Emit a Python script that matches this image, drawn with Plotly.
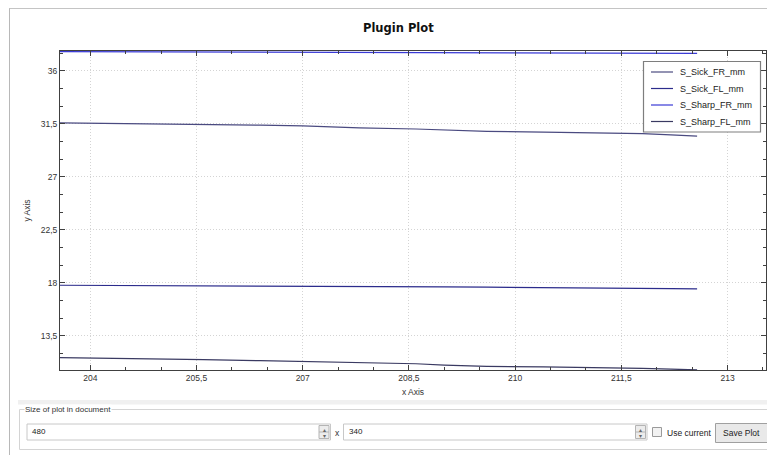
import plotly.graph_objects as go

# ---------------- data ----------------
x_vals = [203.4, 204.0, 204.8, 205.6, 206.4, 207.0, 207.8, 208.6, 209.0, 209.6,
          210.4, 211.2, 211.8, 212.2, 212.57]

s_sick_fr = [31.58, 31.55, 31.50, 31.44, 31.38, 31.31, 31.14, 31.05, 30.98, 30.85,
             30.79, 30.74, 30.65, 30.55, 30.45]
s_sick_fl = [17.79, 17.78, 17.76, 17.75, 17.73, 17.71, 17.69, 17.67, 17.65, 17.62,
             17.60, 17.57, 17.53, 17.50, 17.48]
s_sharp_fr = [37.62, 37.61, 37.60, 37.59, 37.58, 37.57, 37.56, 37.55, 37.54, 37.53,
              37.52, 37.51, 37.50, 37.48, 37.47]
s_sharp_fl = [11.66, 11.62, 11.55, 11.47, 11.38, 11.30, 11.20, 11.12, 11.00, 10.90,
              10.85, 10.80, 10.72, 10.66, 10.60]

series_names = ["S_Sick_FR_mm", "S_Sick_FL_mm", "S_Sharp_FR_mm", "S_Sharp_FL_mm"]
series_vals = [s_sick_fr, s_sick_fl, s_sharp_fr, s_sharp_fl]
series_colors = ["#4a4a80", "#2c2c8c", "#3a3ad6", "#3a3a62"]

x_range = [203.572, 213.543]
y_range = [10.59, 37.67]

# ---------------- layout geometry (reference pixel frame) ----------------
OFF = 8                      # page body margin of the html page
W, H = 775 - OFF, 455 - OFF  # figure size
ML, MR, MT, MB = 60 - OFF, 9, 51 - OFF, 85
PW, PH = W - ML - MR, H - MT - MB
FONT = "Liberation Sans"


def px(xp):
    return (xp - OFF - ML) / PW


def py(yp):
    return (H - MB - (yp - OFF)) / PH


fig = go.Figure()
for name, vals, col in zip(series_names, series_vals, series_colors):
    fig.add_trace(go.Scatter(x=x_vals, y=vals, mode="lines", name=name,
                             line=dict(color=col, width=1.2), showlegend=False))

axis_common = dict(
    showline=True, linecolor="#404040", linewidth=1, mirror="ticks",
    ticks="inside", ticklen=5, tickcolor="#404040",
    showgrid=True, gridcolor="#d4d4d4", griddash="1px,2px", gridwidth=1,
    zeroline=False,
    tickfont=dict(family=FONT, size=8.5, color="#333333"),
)

fig.update_xaxes(range=x_range, tick0=204, dtick=1.5,
                 minor=dict(dtick=0.5, ticks="inside", ticklen=3, tickcolor="#404040", showgrid=False),
                 title=dict(text="x Axis", font=dict(family=FONT, size=8.5, color="#333333"), standoff=6),
                 **axis_common)
fig.update_yaxes(range=y_range, tick0=0, dtick=4.5,
                 minor=dict(dtick=1.5, ticks="inside", ticklen=3, tickcolor="#404040", showgrid=False),
                 title=dict(text="y Axis", font=dict(family=FONT, size=8.5, color="#333333"), standoff=8),
                 **axis_common)

shapes = []
annotations = []

# window frame
shapes.append(dict(type="line", xref="paper", yref="paper", x0=px(9), x1=px(775), y0=py(8.5), y1=py(8.5),
                   line=dict(color="#c4c4c4", width=1)))
shapes.append(dict(type="line", xref="paper", yref="paper", x0=px(9.5), x1=px(9.5), y0=py(8.5), y1=py(455),
                   line=dict(color="#b8b8b8", width=1)))
# gray separator band
shapes.append(dict(type="rect", xref="paper", yref="paper", x0=px(18), x1=px(775), y0=py(400), y1=py(404.5),
                   fillcolor="#f0f0f0", line=dict(width=0)))
# group box
shapes.append(dict(type="rect", xref="paper", yref="paper", x0=px(19.5), x1=px(770), y0=py(409.5), y1=py(449.5),
                   fillcolor="rgba(0,0,0,0)", line=dict(color="#d4d4d4", width=1)))
annotations.append(dict(text="Size of plot in document", xref="paper", yref="paper", x=px(24), y=py(409.5),
                        xanchor="left", yanchor="middle", showarrow=False, bgcolor="white",
                        font=dict(family=FONT, size=8, color="#333333"), borderpad=0))

# text fields
for (x0, x1, txt) in [(27, 330.5, "480"), (343.5, 647, "340")]:
    shapes.append(dict(type="rect", xref="paper", yref="paper", x0=px(x0), x1=px(x1), y0=py(424), y1=py(440),
                       fillcolor="white", line=dict(color="#c8c8c8", width=1)))
    annotations.append(dict(text=txt, xref="paper", yref="paper", x=px(x0 + 3), y=py(432),
                            xanchor="left", yanchor="middle", showarrow=False,
                            font=dict(family=FONT, size=8, color="#222222")))
    # spin buttons
    shapes.append(dict(type="rect", xref="paper", yref="paper", x0=px(x1 - 11.5), x1=px(x1 - 1.5),
                       y0=py(425.5), y1=py(438.5), fillcolor="#ececec", line=dict(color="#b4b4b4", width=1)))
    shapes.append(dict(type="line", xref="paper", yref="paper", x0=px(x1 - 11.5), x1=px(x1 - 1.5),
                       y0=py(432), y1=py(432), line=dict(color="#b4b4b4", width=1)))
    annotations.append(dict(text="▴", xref="paper", yref="paper", x=px(x1 - 6.5), y=py(429),
                            xanchor="center", yanchor="middle", showarrow=False,
                            font=dict(family="DejaVu Sans", size=6, color="#666666")))
    annotations.append(dict(text="▾", xref="paper", yref="paper", x=px(x1 - 6.5), y=py(435.5),
                            xanchor="center", yanchor="middle", showarrow=False,
                            font=dict(family="DejaVu Sans", size=6, color="#666666")))

annotations.append(dict(text="x", xref="paper", yref="paper", x=px(337), y=py(432.5),
                        xanchor="center", yanchor="middle", showarrow=False,
                        font=dict(family=FONT, size=8.5, color="#333333")))

# checkbox
shapes.append(dict(type="rect", xref="paper", yref="paper", x0=px(652.5), x1=px(661.5), y0=py(427.5), y1=py(436.5),
                   fillcolor="#f2f2f2", line=dict(color="#9a9a9a", width=1)))
annotations.append(dict(text="Use current", xref="paper", yref="paper", x=px(665), y=py(432.5),
                        xanchor="left", yanchor="middle", showarrow=False,
                        font=dict(family=FONT, size=8.5, color="#222222")))

# Save Plot button
shapes.append(dict(type="rect", xref="paper", yref="paper", x0=px(715.5), x1=px(768), y0=py(423.5), y1=py(442.5),
                   fillcolor="#e9e9e9", line=dict(color="#a0a0a0", width=1)))
annotations.append(dict(text="Save Plot", xref="paper", yref="paper", x=px(741.5), y=py(433),
                        xanchor="center", yanchor="middle", showarrow=False,
                        font=dict(family=FONT, size=8.5, color="#222222")))

# title
annotations.append(dict(text="<b>Plugin Plot</b>", xref="paper", yref="paper", x=px(398), y=py(28),
                        xanchor="center", yanchor="middle", showarrow=False,
                        font=dict(family="DejaVu Sans", size=11.5, color="#111111")))

# legend box (Qwt style)
shapes.append(dict(type="rect", xref="paper", yref="paper", x0=px(643.5), x1=px(760.5), y0=py(61.5), y1=py(132),
                   fillcolor="white", line=dict(color="#7e7e7e", width=1.2), layer="above"))
for i, (name, col) in enumerate(zip(series_names, series_colors)):
    yy = 72 + i * 16.5
    shapes.append(dict(type="line", xref="paper", yref="paper", x0=px(651), x1=px(673), y0=py(yy), y1=py(yy),
                       line=dict(color=col, width=1.2), layer="above"))
    annotations.append(dict(text=name, xref="paper", yref="paper", x=px(678), y=py(yy),
                            xanchor="left", yanchor="middle", showarrow=False,
                            font=dict(family=FONT, size=9, color="#222222")))

fig.update_layout(
    width=W, height=H,
    margin=dict(l=ML, r=MR, t=MT, b=MB),
    paper_bgcolor="white", plot_bgcolor="white",
    separators=", ",
    showlegend=False,
    shapes=shapes,
    annotations=annotations,
)

fig.write_html("out.html")
